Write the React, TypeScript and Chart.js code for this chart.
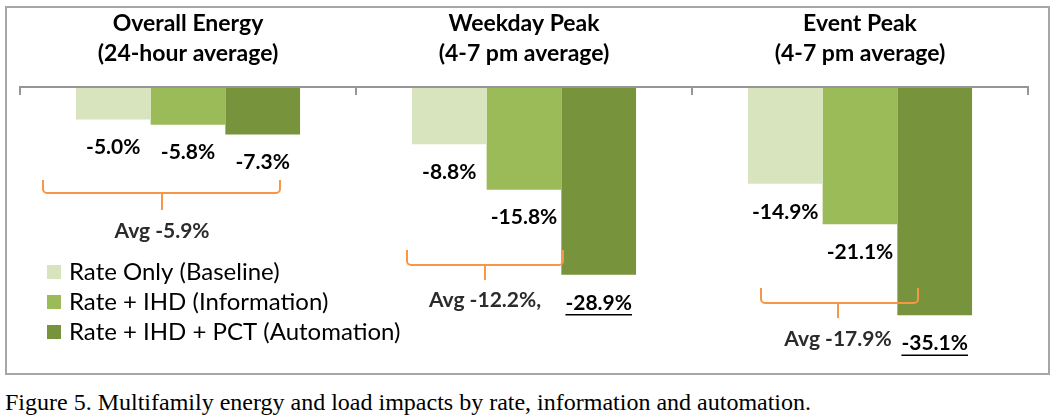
import React, { useEffect, useRef } from 'react';
import { Chart, registerables } from 'chart.js';

Chart.register(...registerables);

// ---------- data ----------
const categories: string[][] = [
  ['Overall Energy', '(24-hour average)'],
  ['Weekday Peak', '(4-7 pm average)'],
  ['Event Peak', '(4-7 pm average)'],
];
const seriesNames = ['Rate Only (Baseline)', 'Rate + IHD (Information)', 'Rate + IHD + PCT (Automation)'];
const rateOnly = [-5.0, -8.8, -14.9];
const rateIhd = [-5.8, -15.8, -21.1];
const rateIhdPct = [-7.3, -28.9, -35.1];
// which value labels are underlined: [series][category]
const underlined = [
  [false, false, false],
  [false, false, false],
  [false, true, true],
];
const avgLabels = ['Avg -5.9%', 'Avg -12.2%,', 'Avg -17.9%'];
const caption = 'Figure 5. Multifamily energy and load impacts by rate, information and automation.';

// ---------- styles / layout ----------
const colors = ['#D7E4BD', '#9BBB59', '#77933C'];
const FONT = 'Lato, "Open Sans", sans-serif';
// bracket geometry: x offsets relative to category centre, y in px
const bracketLayout = [
  { left: -145, right: 92, tick: -26, top: 180, mid: 193, bottom: 210, textY: 231 },
  { left: -117, right: 39, tick: -39, top: 250, mid: 265, bottom: 280, textY: 300 },
  { left: -99, right: 58, tick: -22, top: 288, mid: 303, bottom: 318, textY: 339 },
];

const overlayPlugin = {
  id: 'overlay',
  afterDatasetsDraw(chart: any) {
    const ctx = chart.ctx as CanvasRenderingContext2D;
    const area = chart.chartArea;
    const xs = chart.scales.x;
    const catW = area.width / categories.length;
    ctx.save();

    // axis line + ticks at category boundaries
    ctx.strokeStyle = '#969696';
    ctx.lineWidth = 2;
    ctx.beginPath();
    ctx.moveTo(area.left, area.top);
    ctx.lineTo(area.right, area.top);
    for (let i = 0; i <= categories.length; i++) {
      const bx = i < categories.length ? xs.getPixelForValue(i) - catW / 2 : xs.getPixelForValue(i - 1) + catW / 2;
      ctx.moveTo(bx, area.top - 1);
      ctx.lineTo(bx, area.top + 8);
    }
    ctx.stroke();

    // titles
    ctx.fillStyle = '#000';
    ctx.textAlign = 'center';
    ctx.textBaseline = 'middle';
    ctx.font = `bold 23px ${FONT}`;
    categories.forEach((lines, i) => {
      const cx = xs.getPixelForValue(i);
      lines.forEach((ln, j) => ctx.fillText(ln, cx, 24 + j * 30));
    });

    // value labels
    ctx.font = `bold 21px ${FONT}`;
    chart.data.datasets.forEach((ds: any, d: number) => {
      const meta = chart.getDatasetMeta(d);
      meta.data.forEach((el: any, i: number) => {
        const v = ds.data[i] as number;
        const txt = v.toFixed(1) + '%';
        const y = el.y + 28;
        ctx.fillStyle = '#000';
        ctx.fillText(txt, el.x, y);
        if (underlined[d][i]) {
          const w = ctx.measureText(txt).width;
          ctx.strokeStyle = '#000';
          ctx.lineWidth = 1.5;
          ctx.beginPath();
          ctx.moveTo(el.x - w / 2, y + 12);
          ctx.lineTo(el.x + w / 2, y + 12);
          ctx.stroke();
        }
      });
    });

    // brackets + average labels
    bracketLayout.forEach((b, i) => {
      const cx = xs.getPixelForValue(i);
      const l = cx + b.left, r = cx + b.right, t = cx + b.tick;
      ctx.strokeStyle = '#F79646';
      ctx.lineWidth = 2;
      ctx.lineJoin = 'round';
      ctx.beginPath();
      ctx.moveTo(l, b.top);
      ctx.arcTo(l, b.mid, l + 6, b.mid, 4);
      ctx.lineTo(r - 6, b.mid);
      ctx.arcTo(r, b.mid, r, b.top, 4);
      ctx.lineTo(r, b.top);
      ctx.moveTo(t, b.mid);
      ctx.lineTo(t, b.bottom);
      ctx.stroke();
      ctx.fillStyle = '#2B2B2B';
      ctx.font = `bold 21px ${FONT}`;
      ctx.textAlign = 'center';
      ctx.fillText(avgLabels[i], t, b.textY);
    });

    // legend
    ctx.textAlign = 'left';
    ctx.font = `24px ${FONT}`;
    seriesNames.forEach((name, i) => {
      const top = 265 + i * 30;
      ctx.fillStyle = colors[i];
      ctx.fillRect(47, top, 14, 14);
      ctx.fillStyle = '#000';
      ctx.fillText(name, 69, top + 7);
    });

    ctx.restore();
  },
};

export default function App() {
  const ref = useRef<HTMLCanvasElement | null>(null);

  useEffect(() => {
    if (!ref.current) return;
    const seriesData = [rateOnly, rateIhd, rateIhdPct];
    const chart = new Chart(ref.current, {
      type: 'bar',
      data: {
        labels: categories.map((c) => c.join(' ')),
        datasets: seriesNames.map((name, i) => ({
          label: name,
          data: seriesData[i],
          backgroundColor: colors[i],
          borderWidth: 0,
          categoryPercentage: 0.667,
          barPercentage: 1,
        })),
      },
      options: {
        responsive: false,
        animation: false,
        layout: { padding: { left: 20, right: 28, top: 87, bottom: 33 } },
        scales: {
          x: { display: false },
          y: { display: false, min: -40, max: 0 },
        },
        plugins: { legend: { display: false }, tooltip: { enabled: false } },
      },
      plugins: [overlayPlugin],
    });
    return () => chart.destroy();
  }, []);

  return (
    <div style={{ position: 'absolute', left: 0, top: 0, width: 1056, height: 418, background: '#fff' }}>
      <div
        style={{
          position: 'absolute',
          left: 5,
          top: 6,
          width: 1045,
          height: 369,
          border: '2px solid #A6A6A6',
          boxSizing: 'border-box',
        }}
      />
      <canvas ref={ref} width={1056} height={380} style={{ position: 'absolute', left: 0, top: 0 }} />
      <div
        style={{
          position: 'absolute',
          left: 5,
          top: 389,
          fontFamily: '"Liberation Serif", "Times New Roman", serif',
          fontSize: 24,
          color: '#000',
          whiteSpace: 'nowrap',
          lineHeight: '26px',
        }}
      >
        {caption}
      </div>
    </div>
  );
}
